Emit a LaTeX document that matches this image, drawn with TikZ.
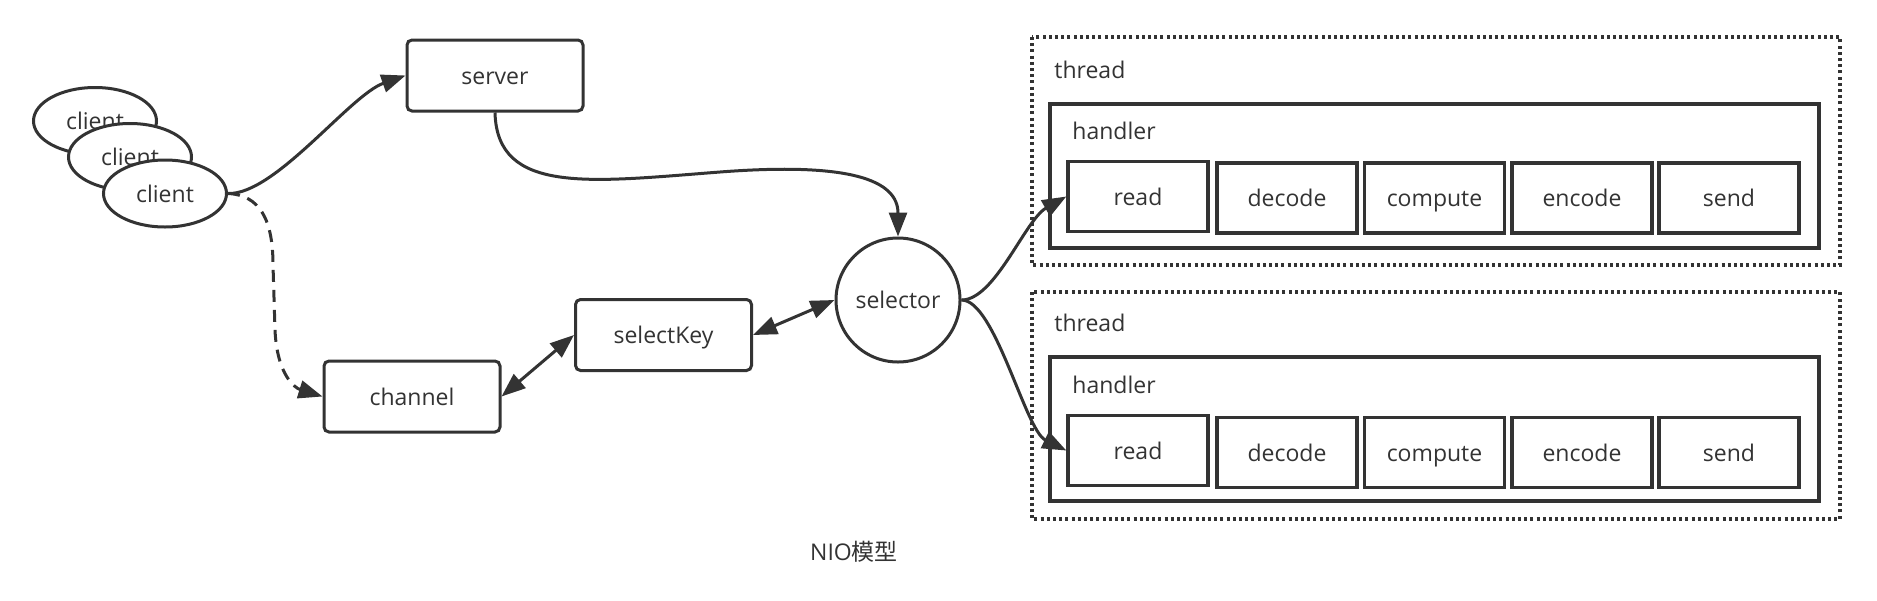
\documentclass[tikz,border=0pt]{standalone}
\usepackage{fontspec}
\setmainfont{Open Sans}
\newfontfamily\cjkfont{Noto Sans CJK SC}
\usetikzlibrary{arrows.meta,shapes.geometric}
\definecolor{dk}{HTML}{333333}
\begin{document}
\begin{tikzpicture}[x=0.5pt,y=-0.5pt,
  every node/.style={text=dk,font=\fontsize{11.5}{14}\selectfont},
  tx/.style={text height=0.88em,text depth=0em},
  ln/.style={draw=dk,line width=1.5pt},
  rbox/.style={ln,tx,rounded corners=2.5pt,fill=white,minimum width=88pt,minimum height=35.5pt,inner sep=0pt},
  cell/.style={draw=dk,tx,line width=1.7pt,minimum width=70pt,minimum height=35pt,inner sep=0pt},
  cli/.style={ellipse,ln,tx,fill=white,minimum width=61.5pt,minimum height=33.5pt,inner sep=0pt},
  hbox/.style={draw=dk,line width=1.6pt},
  tbox/.style={draw=dk,line width=1.6pt,dash pattern=on 1.5pt off 1.6pt},
  tip/.tip={Triangle[length=12pt,width=9pt]},
  arr/.style={ln,-tip},
  darr/.style={ln,tip-tip},
  lbl/.style={anchor=west,inner sep=0pt}]
\useasboundingbox (0,0) rectangle (1877,600);

% clients
\node[cli] (c1) at (95,121) {client};
\node[cli] (c2) at (130,157) {client};
\node[cli] (c3) at (165,193.5) {client};

% boxes
\node[rbox] (server) at (495,75.5) {server};
\node[rbox] (channel) at (412,396.5) {channel};
\node[rbox] (selectKey) at (663.5,335) {selectKey};
\node[circle,ln,tx,minimum size=62pt,inner sep=0pt] (selector) at (898,300) {selector};

% thread 1
\draw[tbox] (1032,37) rectangle (1840,265);
\node[lbl] (t1) at (1054,70) {thread};
\draw[hbox] (1050,104) rectangle (1819,248);
\node[lbl] (h1) at (1072,131) {handler};
\node[cell] (read1) at (1138,196.5) {read};
\node[cell] (decode1) at (1287,198) {decode};
\node[cell] (compute1) at (1434.5,198) {compute};
\node[cell] (encode1) at (1582,198) {encode};
\node[cell] (send1) at (1729,198) {send};

% thread 2
\draw[tbox] (1032,292) rectangle (1840,519);
\node[lbl] (t2) at (1054,323) {thread};
\draw[hbox] (1050,357) rectangle (1819,501);
\node[lbl] (h2) at (1072,385) {handler};
\node[cell] (read2) at (1138,450.5) {read};
\node[cell] (decode2) at (1287,452.5) {decode};
\node[cell] (compute2) at (1434.5,452.5) {compute};
\node[cell] (encode2) at (1582,452.5) {encode};
\node[cell] (send2) at (1729,452.5) {send};

% caption
\node (cap) at (854,552) {NIO{\cjkfont 模型}};

% connectors
\draw[arr] (c3.east) .. controls (275,195) and (350,95) .. (server.west);
\coordinate (d1) at (273,265);
\coordinate (d2) at (275,330);
\draw[arr,dash pattern=on 6pt off 4pt] (c3.east) .. controls (260,195) and (273,220) .. (d1) -- (d2) .. controls (277,375) and (295,388) .. (channel.west);
\coordinate (m1) at (720,172);
\draw[arr] (server.south) .. controls (497,195) and (590,182) .. (m1) .. controls (850,162) and (898,180) .. (selector.north);
\draw[darr] (channel.east) -- (selectKey.west);
\draw[darr] (selectKey.east) -- (selector.west);
\draw[arr] (selector.east) .. controls (995,300) and (1025,220) .. (read1.west);
\draw[arr] (selector.east) .. controls (995,300) and (1025,430) .. (read2.west);
\end{tikzpicture}
\end{document}
